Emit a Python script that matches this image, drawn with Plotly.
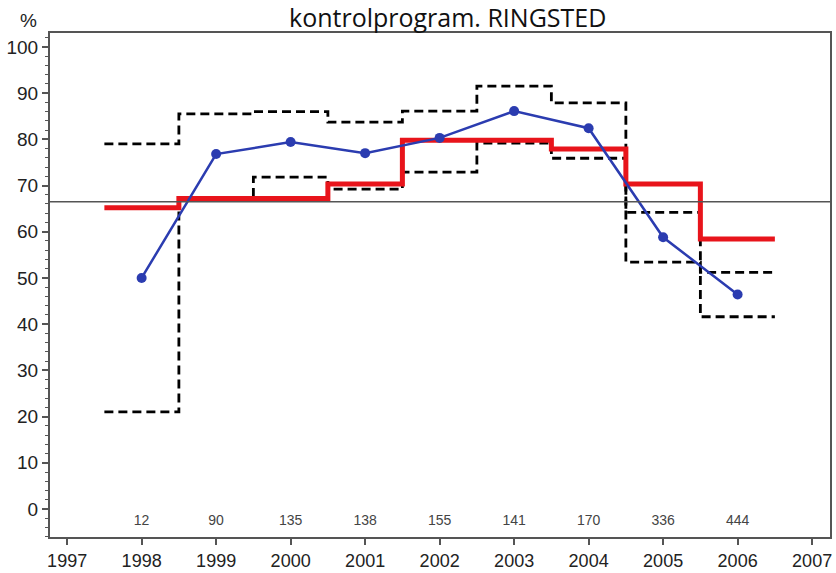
import plotly.graph_objects as go

years = [1998, 1999, 2000, 2001, 2002, 2003, 2004, 2005, 2006]
observed = [50.0, 76.8, 79.4, 77.0, 80.3, 86.1, 82.4, 58.8, 46.4]
expected = [65.2, 67.2, 67.2, 70.3, 79.8, 79.8, 77.9, 70.3, 58.4]
upper_limit = [79.0, 85.5, 86.0, 83.7, 86.1, 91.5, 87.9, 64.2, 51.2]
lower_limit = [21.0, 66.8, 71.8, 69.2, 72.9, 79.2, 75.9, 53.4, 41.6]
counts = [12, 90, 135, 138, 155, 141, 170, 336, 444]
reference_level = 66.5
x_ticks = list(range(1997, 2008))
y_ticks = list(range(0, 101, 10))

# step edges derived from the category years
edges = [y - 0.5 for y in years] + [years[-1] + 0.5]


def stepped(vals):
    return vals + [vals[-1]]


fig = go.Figure()

dash_style = dict(color="black", width=2.8, dash="9px,5px")
fig.add_trace(go.Scatter(x=edges, y=stepped(upper_limit), mode="lines",
                         line=dict(shape="hv", **dash_style), hoverinfo="skip"))
fig.add_trace(go.Scatter(x=edges, y=stepped(lower_limit), mode="lines",
                         line=dict(shape="hv", **dash_style), hoverinfo="skip"))
fig.add_trace(go.Scatter(x=edges, y=stepped(expected), mode="lines",
                         line=dict(shape="hv", color="#e8141b", width=5)))
fig.add_trace(go.Scatter(x=years, y=observed, mode="lines+markers",
                         line=dict(color="#2b3cb0", width=2.5),
                         marker=dict(size=10, color="#2b3cb0")))
fig.add_trace(go.Scatter(x=years, y=[-2.6] * len(years), mode="text",
                         text=[str(c) for c in counts],
                         textfont=dict(family="Liberation Sans, Arial", size=14, color="#444"),
                         hoverinfo="skip"))

fig.add_hline(y=reference_level, line=dict(color="#555", width=1.5))

fig.add_annotation(text="kontrolprogram. RINGSTED", xref="paper", yref="paper",
                   x=0.509, y=1.032, xanchor="center", yanchor="middle",
                   showarrow=False,
                   font=dict(family="Open Sans, Noto Sans, sans-serif", size=25, color="#111"))
fig.add_annotation(text="%", xref="paper", yref="paper",
                   x=-0.028, y=1.024, xanchor="center", yanchor="middle",
                   showarrow=False,
                   font=dict(family="Liberation Sans, Arial", size=19, color="#222"))

fig.update_layout(
    width=836, height=573,
    margin=dict(l=50, r=6, t=33, b=36),
    paper_bgcolor="white", plot_bgcolor="white",
    showlegend=False,
    xaxis=dict(range=[1996.77, 2007.24], tickvals=x_ticks,
               ticktext=[str(t) for t in x_ticks],
               ticks="outside", ticklen=6, tickwidth=1.5, tickcolor="#555",
               showgrid=False, zeroline=False, automargin=False,
               showline=True, mirror=True, linecolor="#555", linewidth=2,
               tickfont=dict(family="Liberation Sans, Arial", size=18, color="#222")),
    yaxis=dict(range=[-6.06, 103.0], tickvals=y_ticks,
               ticks="outside", ticklen=6, tickwidth=1.5, tickcolor="#555",
               minor=dict(dtick=2, ticks="outside", ticklen=3, tickcolor="#555", tickwidth=1),
               showgrid=False, zeroline=False, automargin=False,
               showline=True, mirror=True, linecolor="#555", linewidth=2,
               tickfont=dict(family="Liberation Sans, Arial", size=19, color="#222")),
)

fig.write_html("out.html", config={"displayModeBar": False},
               post_script="document.body.style.margin='0';document.body.style.overflow='hidden';")
